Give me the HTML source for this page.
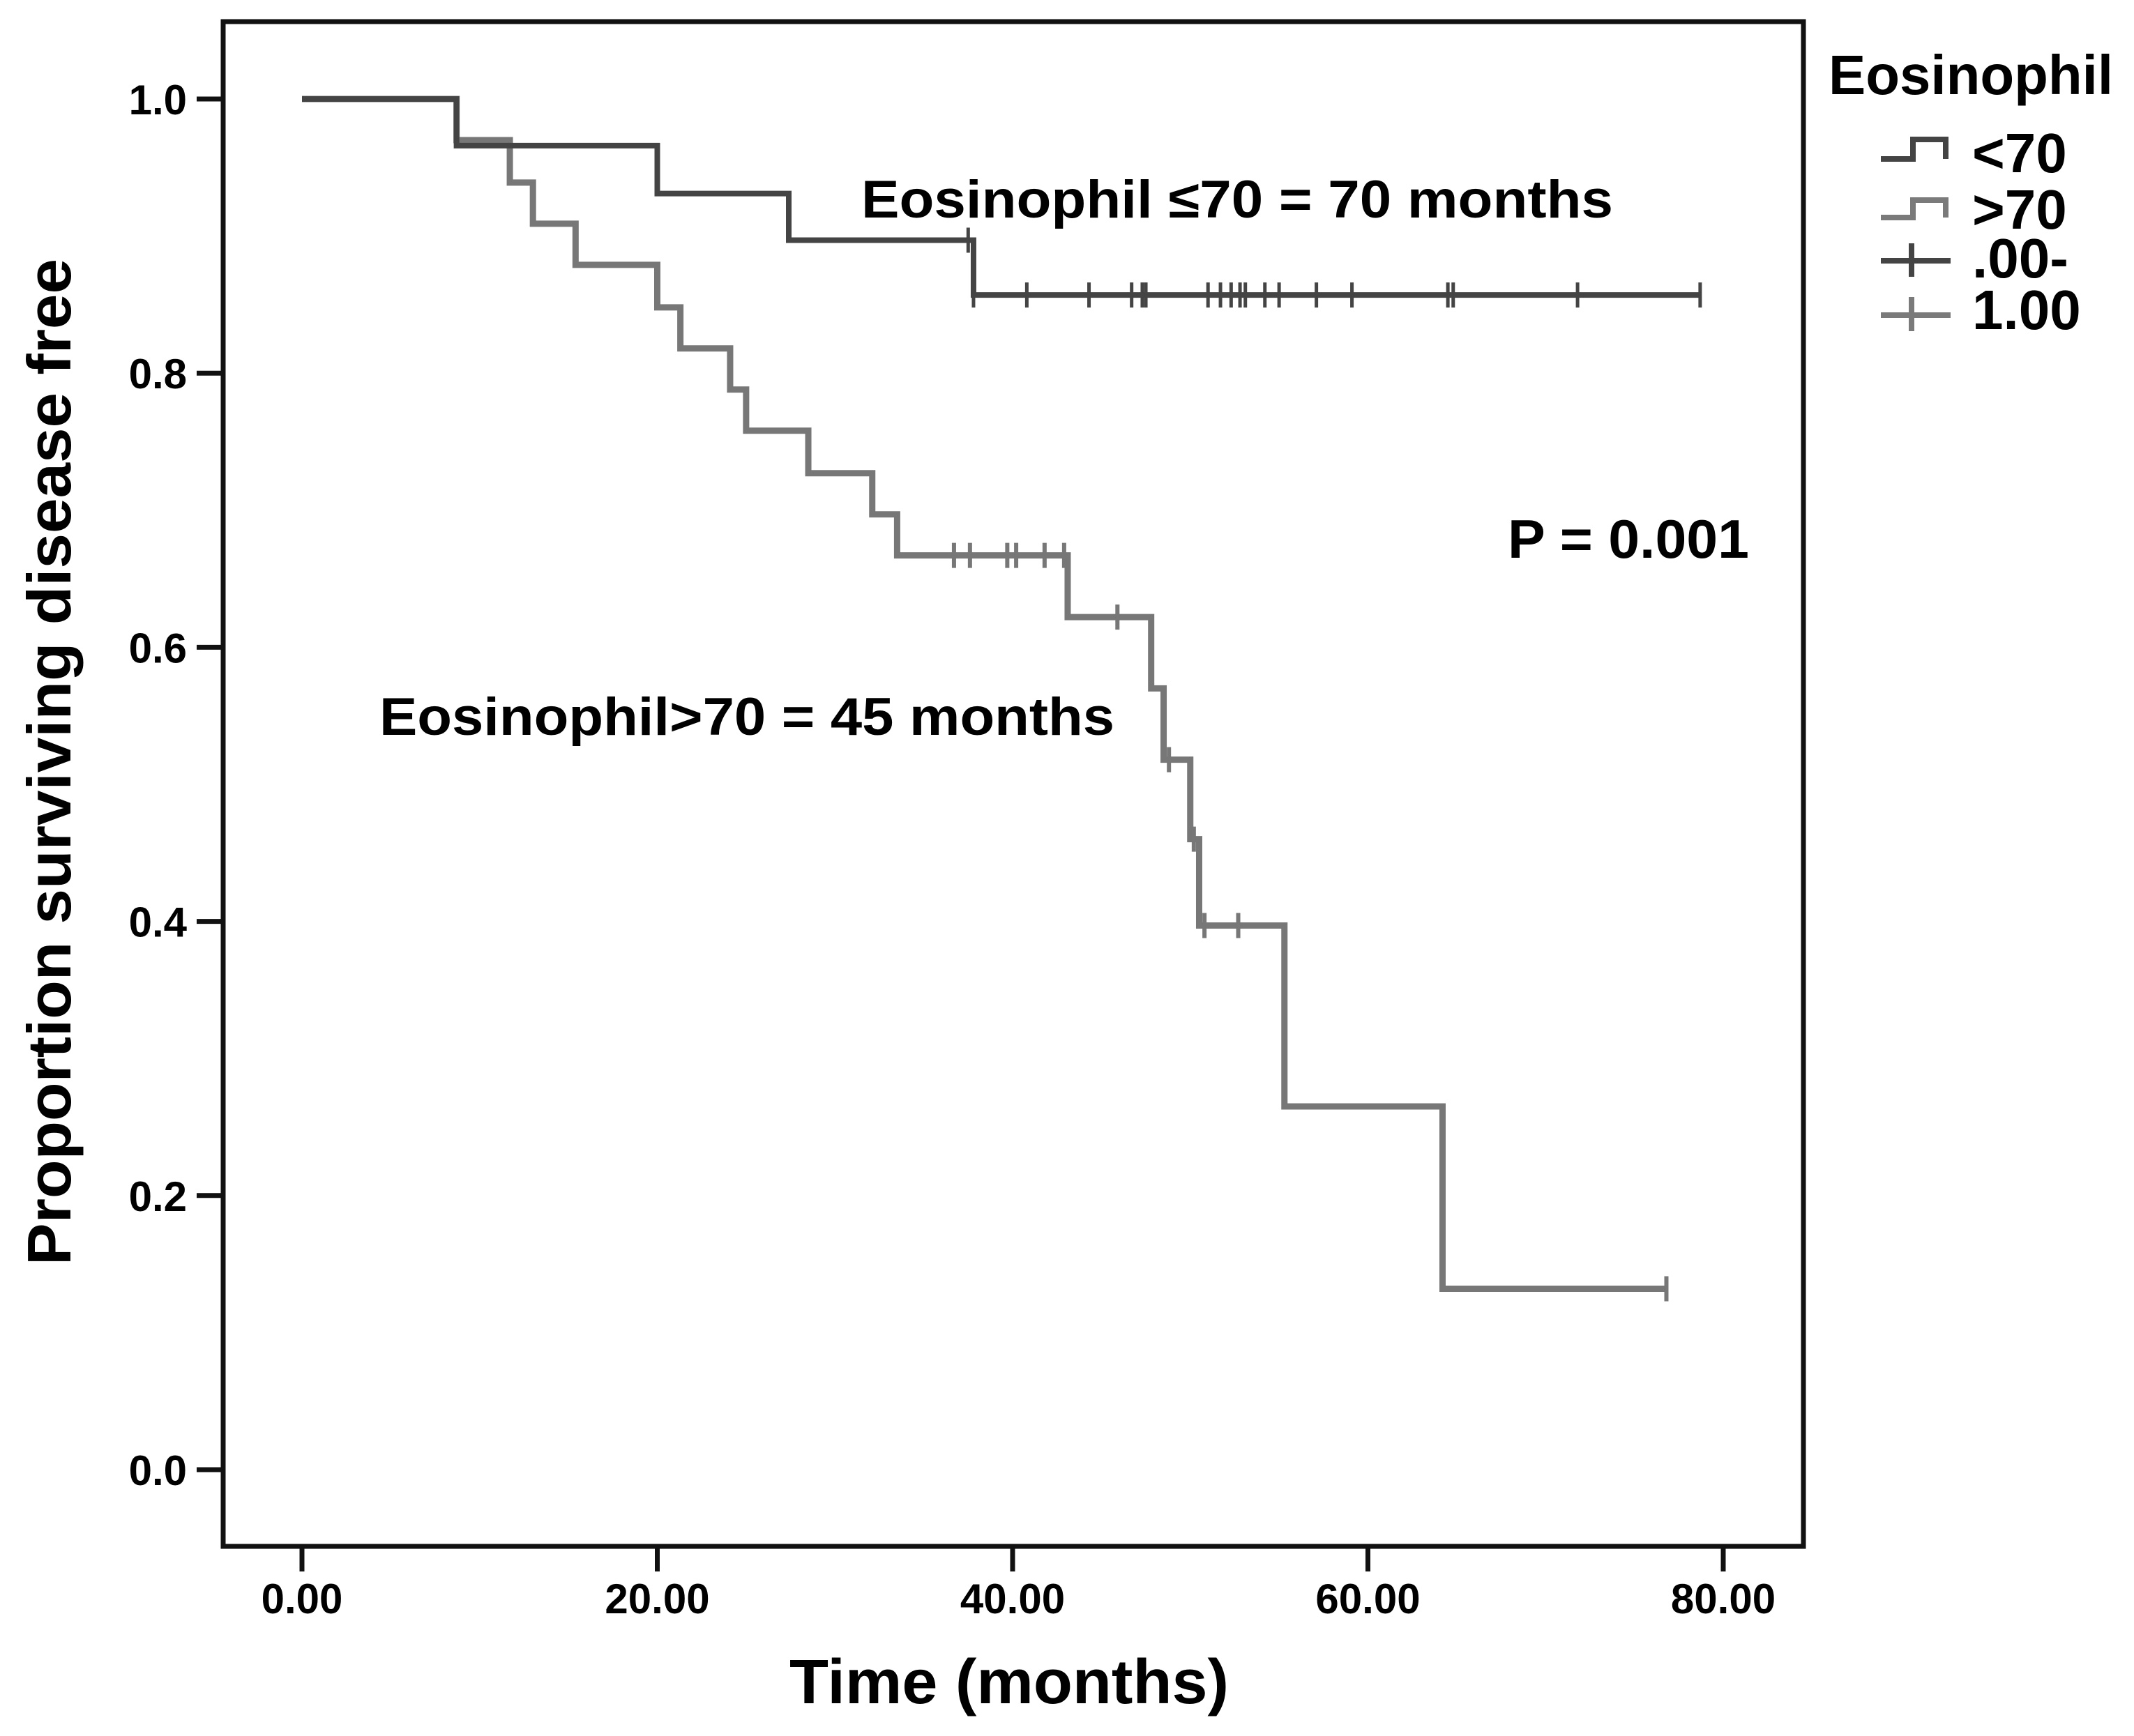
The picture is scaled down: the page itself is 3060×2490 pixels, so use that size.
<!DOCTYPE html>
<html><head><meta charset="utf-8"><style>
html,body{margin:0;padding:0;background:#fff}
svg{display:block}
text{font-family:"Liberation Sans",Arial,sans-serif;font-weight:bold;fill:#000}
</style></head><body>
<svg id="chart" width="3060" height="2490" viewBox="0 0 3060 2490" xmlns="http://www.w3.org/2000/svg">
<rect x="0" y="0" width="3060" height="2490" fill="#fff"/>
<g id="axes"></g>
<g id="series"></g>
<text x="1235" y="312" font-size="76" textLength="1078" lengthAdjust="spacingAndGlyphs">Eosinophil ≤70 = 70 months</text>
<text x="544" y="1054" font-size="76" textLength="1054" lengthAdjust="spacingAndGlyphs">Eosinophil&gt;70 = 45 months</text>
<text x="2162" y="800" font-size="78" textLength="346" lengthAdjust="spacingAndGlyphs">P = 0.001</text>
<text x="1132" y="2443" font-size="90" textLength="630" lengthAdjust="spacingAndGlyphs">Time (months)</text>
<text transform="translate(101,1815) rotate(-90)" x="0" y="0" font-size="88" textLength="1444" lengthAdjust="spacingAndGlyphs">Proportion surviving disease free</text>
<g>
<text x="2622" y="135" font-size="80" textLength="408" lengthAdjust="spacingAndGlyphs">Eosinophil</text>
<path d="M2697 228 H2743 V200 H2790 V228" fill="none" stroke="#444" stroke-width="8"/>
<text x="2828" y="247" font-size="80">&lt;70</text>
<path d="M2697 312 H2743 V287 H2790 V312" fill="none" stroke="#7a7a7a" stroke-width="8"/>
<text x="2828" y="328" font-size="80">&gt;70</text>
<path d="M2697 374 H2797 M2741 349 V397" fill="none" stroke="#444" stroke-width="8"/>
<text x="2828" y="398" font-size="80">.00-</text>
<path d="M2697 452 H2797 M2741 426 V475" fill="none" stroke="#7a7a7a" stroke-width="8"/>
<text x="2828" y="472" font-size="80">1.00</text>
</g>
</svg>
<script>
const xTicks = [0, 20, 40, 60, 80];
const xTickLabels = ["0.00", "20.00", "40.00", "60.00", "80.00"];
const yTicks = [0, 0.2, 0.4, 0.6, 0.8, 1.0];
const yTickLabels = ["0.0", "0.2", "0.4", "0.6", "0.8", "1.0"];
// Eosinophil <=70 (step times and survival after each step)
const lowTimes = [0, 8.7, 20.0, 27.4, 37.8];
const lowSurv = [1.0, 0.966, 0.931, 0.897, 0.857];
const lowEnd = 78.7;
const lowCensorT = [37.5, 37.8, 40.8, 44.3, 46.7, 47.3, 47.5, 51.0, 51.7, 52.3, 52.8, 53.1, 54.2, 55.0, 57.1, 59.1, 64.5, 64.8, 71.8, 78.7];
const lowCensorS = [0.897, 0.857, 0.857, 0.857, 0.857, 0.857, 0.857, 0.857, 0.857, 0.857, 0.857, 0.857, 0.857, 0.857, 0.857, 0.857, 0.857, 0.857, 0.857, 0.857];
// Eosinophil >70
const highTimes = [0, 8.7, 11.7, 13.0, 15.4, 20.0, 21.3, 24.1, 25.0, 28.5, 32.1, 33.5, 43.1, 47.8, 48.5, 50.0, 50.5, 55.3, 64.2];
const highSurv = [1.0, 0.970, 0.939, 0.909, 0.879, 0.848, 0.818, 0.788, 0.758, 0.727, 0.697, 0.667, 0.622, 0.570, 0.518, 0.460, 0.397, 0.265, 0.132];
const highEnd = 76.8;
const highCensorT = [36.7, 37.6, 39.7, 40.2, 41.8, 42.9, 45.9, 48.8, 50.2, 50.8, 52.7, 76.8];
const highCensorS = [0.667, 0.667, 0.667, 0.667, 0.667, 0.667, 0.622, 0.518, 0.460, 0.397, 0.397, 0.132];

const NS = "http://www.w3.org/2000/svg";
const X0 = 433, XPER = 25.475, Y0 = 2108, YPER = 1966;
function xs(t) { return X0 + t * XPER; }
function ys(v) { return Y0 - v * YPER; }
function mk(tag, attrs, parent) {
  const e = document.createElementNS(NS, tag);
  for (const k in attrs) e.setAttribute(k, attrs[k]);
  parent.appendChild(e);
  return e;
}
const axes = document.getElementById("axes");
const series = document.getElementById("series");

const frame = mk("rect", {x: 320, y: 31, width: 2266, height: 2187, fill: "none", stroke: "#111", "stroke-width": 7}, axes);



xTicks.forEach((t, i) => {
  const tk = mk("line", {x1: xs(t), x2: xs(t), y1: 2218, y2: 2254, stroke: "#111", "stroke-width": 7}, axes);
  
  
  const lb = mk("text", {x: xs(t), y: 2314, "font-size": 60, "text-anchor": "middle"}, axes);
  lb.textContent = xTickLabels[i];
  
  
});
yTicks.forEach((v, i) => {
  const tk = mk("line", {x1: 282, x2: 320, y1: ys(v), y2: ys(v), stroke: "#111", "stroke-width": 7}, axes);
  
  
  const lb = mk("text", {x: 268, y: ys(v) + 22, "font-size": 60, "text-anchor": "end"}, axes);
  lb.textContent = yTickLabels[i];
  
  
});

function stepPath(times, surv, end) {
  let d = "M" + xs(times[0]) + " " + ys(surv[0]);
  for (let i = 1; i < times.length; i++) {
    d += " H" + xs(times[i]) + " V" + ys(surv[i]);
  }
  d += " H" + xs(end);
  return d;
}
const hp = mk("path", {d: stepPath(highTimes, highSurv, highEnd), fill: "none", stroke: "#777", "stroke-width": 9}, series);


const lp = mk("path", {d: stepPath(lowTimes, lowSurv, lowEnd), fill: "none", stroke: "#444", "stroke-width": 8}, series);



highCensorT.forEach((t, i) => {
  const c = mk("line", {x1: xs(t), x2: xs(t), y1: ys(highCensorS[i]) - 18, y2: ys(highCensorS[i]) + 18, stroke: "#777", "stroke-width": 6}, series);
  
  
});
lowCensorT.forEach((t, i) => {
  const c = mk("line", {x1: xs(t), x2: xs(t), y1: ys(lowCensorS[i]) - 18, y2: ys(lowCensorS[i]) + 18, stroke: "#444", "stroke-width": 5}, series);
  
  
});
</script>
</body></html>
